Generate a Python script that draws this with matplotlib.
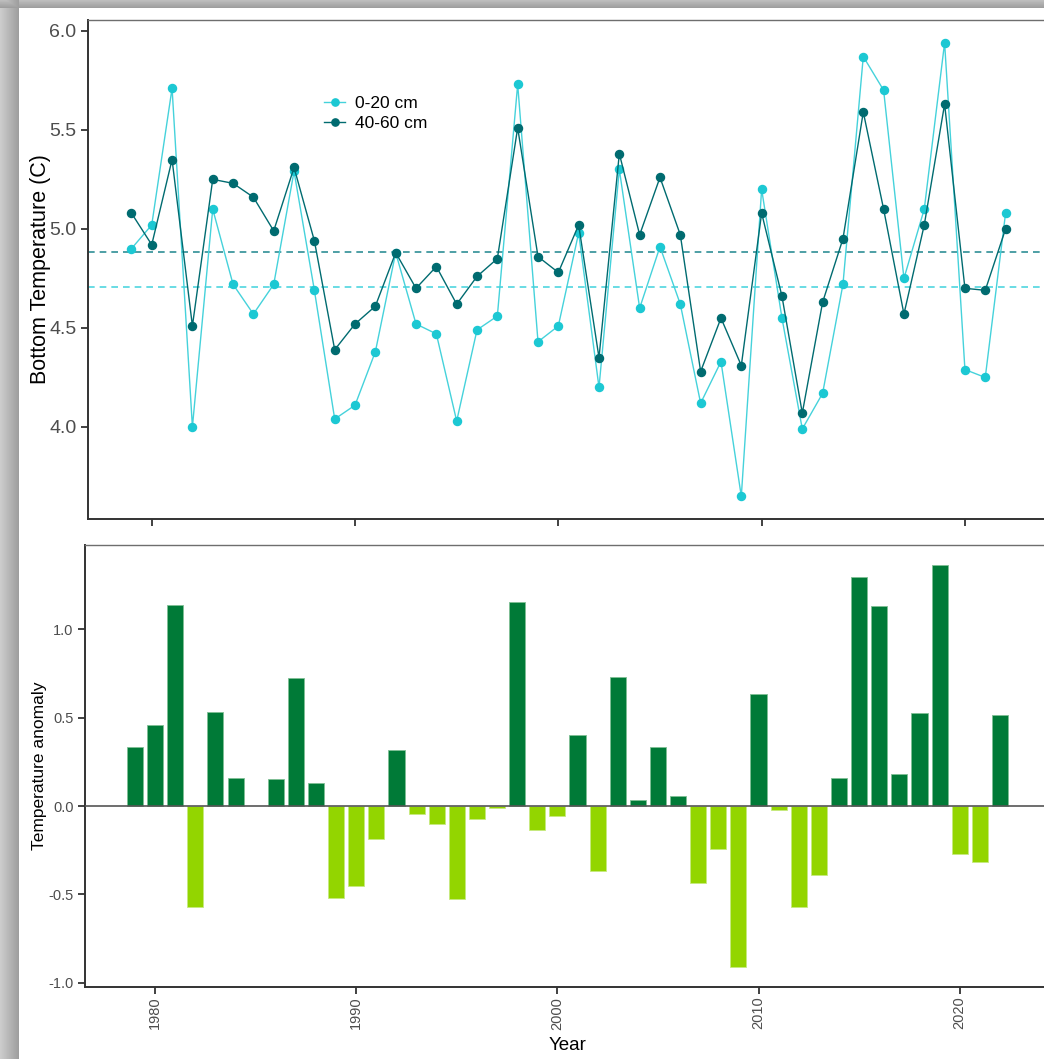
import numpy as np
import matplotlib
matplotlib.use("Agg")
import matplotlib.pyplot as plt

plt.rcParams["font.family"] = ["Liberation Sans", "DejaVu Sans"]
plt.rcParams["axes.unicode_minus"] = False

years = list(range(1979, 2023))

# bottom temperature by depth layer
temp_0_20 = [4.90, 5.02, 5.71, 4.00, 5.10, 4.72, 4.57, 4.72, 5.29, 4.69,
             4.04, 4.11, 4.38, 4.88, 4.52, 4.47, 4.03, 4.49, 4.56, 5.73,
             4.43, 4.51, 4.98, 4.20, 5.30, 4.60, 4.91, 4.62, 4.12, 4.33,
             3.65, 5.20, 4.55, 3.99, 4.17, 4.72, 5.87, 5.70, 4.75, 5.10,
             5.94, 4.29, 4.25, 5.08]
temp_40_60 = [5.08, 4.92, 5.35, 4.51, 5.25, 5.23, 5.16, 4.99, 5.31, 4.94,
              4.39, 4.52, 4.61, 4.88, 4.70, 4.81, 4.62, 4.76, 4.85, 5.51,
              4.86, 4.78, 5.02, 4.35, 5.38, 4.97, 5.26, 4.97, 4.28, 4.55,
              4.31, 5.08, 4.66, 4.07, 4.63, 4.95, 5.59, 5.10, 4.57, 5.02,
              5.63, 4.70, 4.69, 5.00]

# yearly temperature anomaly (1985 missing)
anomaly = [0.336, 0.457, 1.136, -0.572, 0.534, 0.157, np.nan, 0.151, 0.724, 0.128,
           -0.522, -0.451, -0.188, 0.319, -0.045, -0.100, -0.528, -0.074, -0.011, 1.155,
           -0.136, -0.058, 0.402, -0.368, 0.730, 0.032, 0.336, 0.055, -0.437, -0.243,
           -0.911, 0.634, -0.020, -0.572, -0.392, 0.157, 1.296, 1.130, 0.181, 0.529,
           1.364, -0.272, -0.315, 0.515]

series_labels = ["0-20 cm", "40-60 cm"]
year_ticks = [1980, 1990, 2000, 2010, 2020]

cyan = "#1cc8d3"
cyan_line = "#45d2db"
teal = "#006b70"
pos_green = "#007a37"
neg_green = "#93d500"

W, H = 1044, 1059
fig = plt.figure(figsize=(W / 100, H / 100), dpi=100)
fig.patch.set_facecolor("white")

# window frame shadow
bg = fig.add_axes([0, 0, 1, 1], zorder=-10)
shade = np.ones((H, W))
left = np.linspace(0.80, 0.62, 19)
shade[:, :19] = left[None, :]
shade[:8, :] = np.minimum(shade[:8, :], np.linspace(0.74, 0.62, 8)[:, None])
bg.imshow(shade, cmap="gray", vmin=0, vmax=1, aspect="auto", interpolation="nearest")
bg.axis("off")


def style_axes(ax, tick_size):
    for side in ("top", "right"):
        ax.spines[side].set_color("#6e6e6e")
        ax.spines[side].set_linewidth(1.0)
    for side in ("left", "bottom"):
        ax.spines[side].set_color("#333333")
        ax.spines[side].set_linewidth(1.4)
    ax.tick_params(direction="out", length=5, width=1.3, color="#333333",
                   labelcolor="#4d4d4d", labelsize=tick_size, pad=3)


# top panel: temperature series
ax1 = fig.add_axes([87.7 / W, 1 - 519 / H, 961.6 / W, 499 / H])
ax1.plot(years, temp_0_20, color=cyan_line, lw=1.0, marker="o", ms=5.8,
         mfc=cyan, mec=cyan, label=series_labels[0], zorder=3)
ax1.plot(years, temp_40_60, color=teal, lw=1.0, marker="o", ms=5.8,
         mfc=teal, mec=teal, label=series_labels[1], zorder=4)
ax1.axhline(np.mean(temp_40_60), color="#2f8f96", lw=1.2, ls=(0, (4, 3)), zorder=2)
ax1.axhline(np.mean(temp_0_20), color="#4fd6df", lw=1.2, ls=(0, (4, 3)), zorder=2)
ax1.set_xlim(1976.85, 2024.15)
ax1.set_xticks(year_ticks)
ax1.set_xticklabels([])
ax1.set_yticks([4.0, 4.5, 5.0, 5.5, 6.0])
ax1.yaxis.set_major_formatter(matplotlib.ticker.FormatStrFormatter("%.1f"))
ax1.set_ylabel("Bottom Temperature (C)", fontsize=15.5, color="black")
ax1.yaxis.set_label_coords(-0.038, 0.5)
style_axes(ax1, 14)
ax1.legend(loc="upper left", bbox_to_anchor=(0.246, 0.847), frameon=False,
           fontsize=12.5, handlelength=1.2, handletextpad=0.55, labelspacing=0.25,
           borderpad=0, borderaxespad=0, markerscale=0.9)

# bottom panel: anomaly bars
ax2 = fig.add_axes([84.7 / W, 1 - 987 / H, 965.5 / W, 442 / H])
vals = np.array(anomaly, dtype=float)
yrs = np.array(years)
ok = ~np.isnan(vals)
colors = [pos_green if v > 0 else neg_green for v in vals[ok]]
edges = ["#7fbf95" if v > 0 else "#c6ea80" for v in vals[ok]]
ax2.bar(yrs[ok], vals[ok], width=0.8, color=colors, edgecolor=edges, linewidth=0.6, zorder=2)
ax2.axhline(0, color="#555555", lw=1.2, zorder=3)
ax2.set_xlim(1976.5, 2024.5)
ax2.set_xticks(year_ticks)
ax2.set_xticklabels([str(y) for y in year_ticks], rotation=90)
ax2.set_yticks([-1.0, -0.5, 0.0, 0.5, 1.0])
ax2.yaxis.set_major_formatter(matplotlib.ticker.FormatStrFormatter("%.1f"))
ax2.set_ylabel("Temperature anomaly", fontsize=12.5, color="black")
ax2.yaxis.set_label_coords(-0.039, 0.5)
ax2.set_xlabel("Year", fontsize=13.5, color="black", labelpad=5)
style_axes(ax2, 10.5)
ax2.tick_params(axis="x", pad=2)

fig.savefig("out.png", dpi=100)
